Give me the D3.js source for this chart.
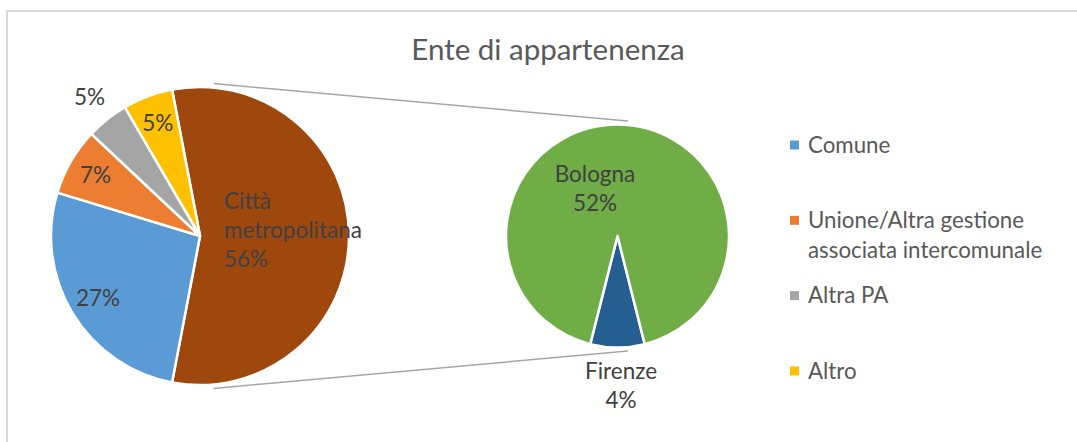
<!DOCTYPE html>
<html lang="it">
<head>
<meta charset="UTF-8">
<title>Ente di appartenenza</title>
<script src="https://cdn.jsdelivr.net/npm/d3@7"></script>
<style>
  body { margin: 0; background: #fff; }
  text { font-family: Lato, "Noto Sans", sans-serif; }
</style>
</head>
<body>
<div id="chart"></div>
<script>
// dati (in ordine orario a partire dalla fetta esplosa)
const mainCategories = ["Città metropolitana", "Comune", "Unione/Altra gestione associata intercomunale", "Altra PA", "Altro"];
const mainValues = [56.0, 26.7, 7.3, 4.6, 5.4];
const subCategories = ["Firenze", "Bologna"];
const subValues = [4.4, 51.6];
const legendCategories = ["Comune", "Unione/Altra gestione associata intercomunale", "Altra PA", "Altro"];
const legendLines = [["Comune"], ["Unione/Altra gestione", "associata intercomunale"], ["Altra PA"], ["Altro"]];

const width = 1077, height = 442;
const colors = {
  "Comune": "#5b9bd5",
  "Unione/Altra gestione associata intercomunale": "#ed7d31",
  "Altra PA": "#a5a5a5",
  "Altro": "#ffc000",
  "Città metropolitana": "#9e480e",
  "Bologna": "#70ad47",
  "Firenze": "#255e91"
};

const main = {cx: 200, cy: 236, r: 149};
const sub = {cx: 617.5, cy: 236, r: 111.5};

const svg = d3.select("#chart").append("svg")
  .attr("width", width)
  .attr("height", height);

// bordo del grafico
svg.append("rect")
  .attr("x", 7).attr("y", 11)
  .attr("width", width + 20).attr("height", height + 20)
  .attr("fill", "none")
  .attr("stroke", "#d9d9d9")
  .attr("stroke-width", 2);

svg.append("text")
  .attr("x", 548).attr("y", 60)
  .attr("text-anchor", "middle")
  .attr("font-size", 29.5)
  .attr("fill", "#595959")
  .text("Ente di appartenenza");

// linee di collegamento (tangenti esterne tra le due torte)
const d = sub.cx - main.cx;
const off = 4;
const alpha = Math.asin(((main.r + off) - (sub.r + off)) / d);
[-1, 1].forEach(s => {
  const x1 = main.cx + (main.r + off) * Math.sin(alpha);
  const y1 = main.cy + s * (main.r + off) * Math.cos(alpha);
  const x2 = sub.cx + (sub.r + off) * Math.sin(alpha);
  const y2 = sub.cy + s * (sub.r + off) * Math.cos(alpha);
  svg.append("line")
    .attr("x1", x1).attr("y1", y1)
    .attr("x2", x2).attr("y2", y2)
    .attr("stroke", "#a6a6a6")
    .attr("stroke-width", 1.5);
});

const fmt = d3.format(".0%");
const total = d3.sum(mainValues);

// torta principale
const mainShare = mainValues[0] / total * 2 * Math.PI;
const mainStart = Math.PI / 2 - mainShare / 2;
const mainPie = d3.pie().sort(null).startAngle(mainStart).endAngle(mainStart + 2 * Math.PI);
const mainArcs = mainPie(mainValues).map((a, i) => Object.assign(a, {cat: mainCategories[i]}));
const mainArc = d3.arc().innerRadius(0).outerRadius(main.r);

const gMain = svg.append("g").attr("transform", `translate(${main.cx},${main.cy})`);
gMain.selectAll("path").data(mainArcs).join("path")
  .attr("d", mainArc)
  .attr("fill", d => colors[d.cat])
  .attr("stroke", "#fff")
  .attr("stroke-width", 2.5)
  .attr("stroke-linejoin", "round");

// posizione etichette: fattore di raggio
const labelRadius = {
  "Comune": 0.8,
  "Unione/Altra gestione associata intercomunale": 0.81,
  "Altra PA": 1.19,
  "Altro": 0.81
};

mainArcs.forEach(a => {
  const pct = fmt(a.value / total);
  if (a.cat === "Città metropolitana") {
    const t = gMain.append("text")
      .attr("font-size", 22.5)
      .attr("fill", "#404040");
    ["Città", "metropolitana", pct].forEach((line, i) => {
      t.append("tspan").attr("x", 24).attr("y", -27 + i * 29).text(line);
    });
    return;
  }
  const mid = (a.startAngle + a.endAngle) / 2;
  const rr = main.r * labelRadius[a.cat];
  gMain.append("text")
    .attr("x", rr * Math.sin(mid))
    .attr("y", -rr * Math.cos(mid))
    .attr("dy", "0.35em")
    .attr("text-anchor", "middle")
    .attr("font-size", 22.5)
    .attr("fill", "#404040")
    .text(pct);
});

// torta secondaria
const subTotal = d3.sum(subValues);
const subShare = subValues[0] / subTotal * 2 * Math.PI;
const subStart = Math.PI - subShare / 2;
const subPie = d3.pie().sort(null).startAngle(subStart).endAngle(subStart + 2 * Math.PI);
const subArcs = subPie(subValues).map((a, i) => Object.assign(a, {cat: subCategories[i]}));
const subArc = d3.arc().innerRadius(0).outerRadius(sub.r);

const gSub = svg.append("g").attr("transform", `translate(${sub.cx},${sub.cy})`);
gSub.selectAll("path").data(subArcs).join("path")
  .attr("d", subArc)
  .attr("fill", d => colors[d.cat])
  .attr("stroke", "#fff")
  .attr("stroke-width", 2.5)
  .attr("stroke-linejoin", "round");

// etichette torta secondaria: [angolo in gradi, fattore raggio] della prima riga
const subLabelPos = {"Bologna": [-22.6, 0.525], "Firenze": [178.6, 1.283]};
subArcs.forEach(a => {
  const [deg, f] = subLabelPos[a.cat];
  const ang = deg * Math.PI / 180;
  const x = sub.r * f * Math.sin(ang);
  const y = -sub.r * f * Math.cos(ang);
  const t = gSub.append("text")
    .attr("text-anchor", "middle")
    .attr("font-size", 22.5)
    .attr("fill", "#404040");
  [a.cat, fmt(a.value / total)].forEach((line, i) => {
    t.append("tspan").attr("x", x).attr("y", y + i * 29).text(line);
  });
});

// legenda
const legendY = d3.scalePoint().domain(legendCategories).range([145, 371]);
const gLeg = svg.append("g");
legendCategories.forEach((c, i) => {
  const y = legendY(c);
  gLeg.append("rect")
    .attr("x", 790).attr("y", y - 4.5)
    .attr("width", 9).attr("height", 9)
    .attr("fill", colors[c]);
  const t = gLeg.append("text")
    .attr("font-size", 22.3)
    .attr("fill", "#595959");
  legendLines[i].forEach((line, j) => {
    t.append("tspan").attr("x", 808).attr("y", y + 7.5 + j * 30).text(line);
  });
});
</script>
</body>
</html>
